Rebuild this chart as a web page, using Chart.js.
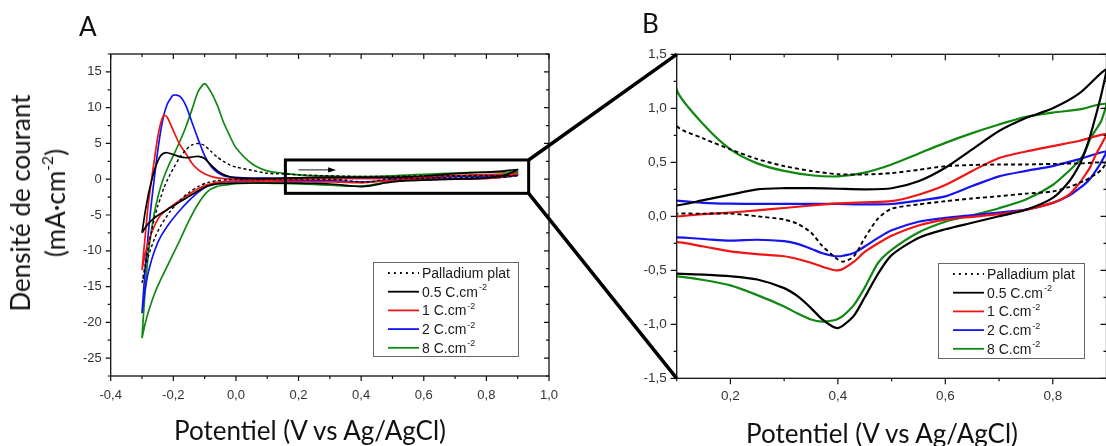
<!DOCTYPE html>
<html>
<head>
<meta charset="utf-8">
<script src="https://cdn.jsdelivr.net/npm/chart.js@4.4.0/dist/chart.umd.min.js"></script>
<style>
  html, body { margin: 0; padding: 0; background: #fff; }
  body { width: 1106px; height: 446px; position: relative; overflow: hidden; font-family: Lato, "Open Sans", sans-serif; }
  canvas { position: absolute; top: 0; }
  #chartA { left: 0; }
  #chartB { left: 560px; }
  #overlay { left: 0; pointer-events: none; }
  .txt { position: absolute; color: #111; white-space: nowrap; line-height: 1; }
  .panel { font-size: 26px; }
  .axisTitle { font-size: 26px; transform: translate(-50%, -50%); }
  #yTitleA { left: 38px; top: 203px; text-align: center; line-height: 35px; transform: translate(-50%, -50%) rotate(-90deg); }
  sup { font-size: 0.6em; position: relative; top: -0.15em; vertical-align: super; line-height: 0; }
</style>
</head>
<body>
<canvas id="chartA" width="560" height="446"></canvas>
<canvas id="chartB" width="560" height="446"></canvas>
<canvas id="overlay" width="1106" height="446"></canvas>
<div class="txt panel" style="left:79px; top:13px;">A</div>
<div class="txt panel" style="left:642px; top:10px;">B</div>
<div class="txt axisTitle" style="left:310px; top:430px;">Potentiel (V vs Ag/AgCl)</div>
<div class="txt axisTitle" style="left:882px; top:433px;">Potentiel (V vs Ag/AgCl)</div>
<div class="txt axisTitle" id="yTitleA">Densité de courant<br>(mA·cm<sup>-2</sup>)</div>
<script>
// potential grid (V vs Ag/AgCl): anodic sweep, then the cathodic sweep back
const potForward = [-0.30, -0.29, -0.28, -0.27, -0.26, -0.25, -0.24, -0.23, -0.22, -0.21, -0.20, -0.18, -0.16, -0.14, -0.12, -0.10, -0.08, -0.06, -0.04, -0.02, 0.00, 0.05, 0.10, 0.15, 0.20, 0.25, 0.30, 0.35, 0.40, 0.45, 0.50, 0.55, 0.60, 0.65, 0.70, 0.75, 0.80, 0.85, 0.90];
const potReverse = [0.89, 0.88, 0.87, 0.86, 0.85, 0.83, 0.80, 0.75, 0.70, 0.65, 0.60, 0.55, 0.50, 0.475, 0.45, 0.43, 0.41, 0.40, 0.39, 0.37, 0.35, 0.325, 0.30, 0.25, 0.20, 0.15, 0.10, 0.05, 0.00, -0.03, -0.06, -0.09, -0.12, -0.15, -0.18, -0.21, -0.24, -0.26, -0.28, -0.29, -0.30];

// current density (mA/cm2)
const pdPlatFwd = [-14.5, -12.0, -9.6, -7.4, -5.4, -3.8, -2.5, -1.2, -0.2, 0.7, 1.5, 3.0, 4.1, 4.8, 5.0, 4.7, 3.9, 3.1, 2.5, 2.0, 1.7, 1.25, 0.835, 0.72, 0.62, 0.53, 0.465, 0.42, 0.39, 0.387, 0.40, 0.43, 0.464, 0.475, 0.48, 0.48, 0.485, 0.49, 0.495];
const pdPlatRev = [0.43, 0.39, 0.36, 0.33, 0.31, 0.27, 0.23, 0.21, 0.186, 0.165, 0.14, 0.11, 0.07, -0.02, -0.2, -0.37, -0.42, -0.4, -0.36, -0.27, -0.15, -0.07, -0.03, 0.0, 0.025, 0.025, 0.025, 0.02, -0.02, -0.07, -0.2, -0.47, -1.0, -1.85, -3.0, -4.5, -6.5, -8.3, -10.8, -12.5, -14.5];
const c05Fwd = [-7.5, -4.6, -2.2, -0.3, 1.3, 2.5, 3.3, 3.65, 3.7, 3.6, 3.45, 3.15, 3.0, 3.1, 3.2, 2.9, 2.0, 1.2, 0.65, 0.35, 0.2, 0.1, 0.1, 0.15, 0.2, 0.25, 0.26, 0.26, 0.255, 0.25, 0.26, 0.325, 0.45, 0.62, 0.79, 0.91, 1.0, 1.14, 1.36];
const c05Rev = [1.12, 0.93, 0.75, 0.6, 0.48, 0.32, 0.17, 0.06, 0.0, -0.06, -0.12, -0.2, -0.36, -0.53, -0.75, -0.92, -1.01, -1.035, -1.02, -0.95, -0.85, -0.74, -0.665, -0.585, -0.555, -0.54, -0.53, -0.53, -0.55, -0.6, -0.65, -0.95, -1.6, -2.4, -3.2, -4.0, -4.8, -5.4, -6.2, -6.8, -7.5];
const c1Fwd = [-12.7, -8.0, -3.5, -0.2, 2.9, 5.8, 7.9, 8.95, 8.7, 7.8, 6.8, 4.9, 3.6, 2.2, 1.3, 0.75, 0.4, 0.2, 0.1, 0.05, 0.02, 0.0, 0.0, 0.02, 0.035, 0.055, 0.077, 0.1, 0.12, 0.13, 0.14, 0.2, 0.29, 0.42, 0.54, 0.6, 0.65, 0.7, 0.76];
const c1Rev = [0.66, 0.57, 0.46, 0.38, 0.31, 0.2, 0.124, 0.06, 0.02, -0.005, -0.03, -0.085, -0.18, -0.25, -0.33, -0.42, -0.485, -0.5, -0.495, -0.465, -0.43, -0.395, -0.37, -0.35, -0.325, -0.28, -0.24, -0.27, -0.3, -0.36, -0.45, -0.75, -1.3, -2.1, -3.0, -3.9, -5.0, -6.5, -8.8, -10.5, -12.7];
const c2Fwd = [-18.7, -12.6, -7.6, -3.3, 0.4, 3.9, 6.8, 9.0, 10.4, 11.2, 11.75, 11.6, 10.3, 7.9, 5.5, 3.3, 1.8, 0.95, 0.5, 0.32, 0.25, 0.17, 0.145, 0.125, 0.117, 0.115, 0.115, 0.115, 0.115, 0.11, 0.114, 0.145, 0.185, 0.28, 0.37, 0.42, 0.465, 0.53, 0.6];
const c2Rev = [0.5, 0.42, 0.35, 0.3, 0.26, 0.19, 0.124, 0.062, 0.035, 0.01, -0.015, -0.05, -0.13, -0.2, -0.28, -0.34, -0.365, -0.37, -0.365, -0.34, -0.3, -0.255, -0.23, -0.217, -0.226, -0.21, -0.195, -0.21, -0.25, -0.3, -0.5, -0.95, -1.8, -3.0, -4.4, -6.0, -8.0, -10.0, -13.0, -15.5, -18.7];
const c8Fwd = [-22.2, -15.5, -10.5, -7.2, -4.6, -2.6, -1.0, 0.3, 1.4, 2.4, 3.3, 5.2, 7.3, 9.8, 12.3, 13.35, 12.2, 10.4, 8.0, 6.1, 4.4, 2.2, 1.17, 0.85, 0.62, 0.49, 0.42, 0.38, 0.37, 0.405, 0.48, 0.58, 0.68, 0.77, 0.85, 0.92, 0.96, 0.99, 1.04];
const c8Rev = [0.88, 0.8, 0.72, 0.6, 0.52, 0.42, 0.29, 0.155, 0.075, 0.01, -0.05, -0.15, -0.31, -0.43, -0.66, -0.82, -0.92, -0.95, -0.965, -0.975, -0.955, -0.9, -0.835, -0.73, -0.64, -0.59, -0.557, -0.56, -0.62, -0.8, -1.0, -1.7, -3.4, -5.8, -8.6, -11.3, -14.0, -16.0, -18.6, -20.2, -22.2];

const seriesLabels = ['Palladium plat', '0.5 C.cm', '1 C.cm', '2 C.cm', '8 C.cm'];
const seriesExponents = ['', '-2', '-2', '-2', '-2'];
const seriesColors = ['#000000', '#000000', '#f01414', '#1414f0', '#118811'];
const seriesFwd = [pdPlatFwd, c05Fwd, c1Fwd, c2Fwd, c8Fwd];
const seriesRev = [pdPlatRev, c05Rev, c1Rev, c2Rev, c8Rev];

// tick labels
const ticksPotA = [-0.4, -0.2, 0.0, 0.2, 0.4, 0.6, 0.8, 1.0];
const ticksCurA = [-25, -20, -15, -10, -5, 0, 5, 10, 15];
const ticksPotB = [0.2, 0.4, 0.6, 0.8];
const ticksCurB = [-1.5, -1.0, -0.5, 0.0, 0.5, 1.0, 1.5];

// region of panel A shown enlarged in panel B
const zoomPot = [0.158, 0.935];
const zoomCur = [-1.97, 2.69];
const sweepArrowPot = [0.2, 0.32];
const sweepArrowCur = 1.3;

function loop(i) {
  const pts = potForward.map((e, k) => ({ x: e, y: seriesFwd[i][k] }));
  return pts.concat(potReverse.map((e, k) => ({ x: e, y: seriesRev[i][k] })));
}

function buildDatasets(width, dash) {
  return seriesLabels.map((label, i) => ({
    label: label,
    data: loop(i),
    borderColor: seriesColors[i],
    borderWidth: i === 0 ? width - 0.3 : width,
    borderDash: i === 0 ? dash : [],
    showLine: true,
    pointRadius: 0,
    tension: 0.25
  }));
}

const frameTicks = {
  id: 'frameTicks',
  afterDraw(chart, args, o) {
    const { ctx, chartArea: a, scales: { x, y } } = chart;
    ctx.save();
    ctx.strokeStyle = '#111';
    ctx.lineWidth = 1.2;
    ctx.beginPath();
    const steps = (sc, step) => {
      const out = [];
      for (let n = Math.ceil(sc.min / step - 1e-6); n * step <= sc.max + 1e-9; n++) out.push(n * step);
      return out;
    };
    const isMajor = (v, step) => Math.abs(v / step - Math.round(v / step)) < 1e-6;
    steps(x, o.xMinor).forEach(v => {
      const px = x.getPixelForValue(v);
      const len = isMajor(v, o.xMajor) ? o.major : o.minor;
      ctx.moveTo(px, a.bottom); ctx.lineTo(px, a.bottom + len);
      ctx.moveTo(px, a.top); ctx.lineTo(px, a.top + len);
    });
    steps(y, o.yMinor).forEach(v => {
      const py = y.getPixelForValue(v);
      const len = isMajor(v, o.yMajor) ? o.major : o.minor;
      ctx.moveTo(a.left, py); ctx.lineTo(a.left - len, py);
      ctx.moveTo(a.right, py); ctx.lineTo(a.right - len, py);
    });
    ctx.stroke();
    ctx.lineWidth = 1.3;
    ctx.strokeRect(a.left, a.top, a.right - a.left, a.bottom - a.top);
    ctx.restore();
  }
};

const boxLegend = {
  id: 'boxLegend',
  afterDraw(chart, args, o) {
    const { ctx, chartArea: a } = chart;
    const left = Math.round(a.right - o.right - o.width);
    const top = Math.round(a.bottom - o.bottom - o.height);
    ctx.save();
    ctx.fillStyle = '#fff';
    ctx.fillRect(left, top, o.width, o.height);
    ctx.strokeStyle = '#666';
    ctx.lineWidth = 1;
    ctx.strokeRect(left + 0.5, top + 0.5, o.width, o.height);
    chart.data.datasets.forEach((ds, i) => {
      const cy = top + 11 + i * 18.7;
      ctx.strokeStyle = ds.borderColor;
      ctx.lineWidth = i === 0 ? 2 : 1.8;
      ctx.setLineDash(i === 0 ? [1.8, 4.2] : []);
      ctx.beginPath();
      ctx.moveTo(left + 15, cy);
      ctx.lineTo(left + 46, cy);
      ctx.stroke();
      ctx.setLineDash([]);
      ctx.fillStyle = '#1a1a1a';
      ctx.textBaseline = 'middle';
      ctx.font = '14px "Liberation Sans", Arial, sans-serif';
      ctx.fillText(seriesLabels[i], left + 49, cy + 1);
      if (seriesExponents[i]) {
        const w = ctx.measureText(seriesLabels[i]).width;
        ctx.font = '9px "Liberation Sans", Arial, sans-serif';
        ctx.fillText(seriesExponents[i], left + 50 + w, cy - 4);
      }
    });
    ctx.restore();
  }
};

const zoomBox = {
  id: 'zoomBox',
  afterDatasetsDraw(chart) {
    const { ctx, scales: { x, y } } = chart;
    ctx.save();
    ctx.strokeStyle = '#000';
    ctx.lineWidth = 3;
    const x0 = x.getPixelForValue(zoomPot[0]), x1 = x.getPixelForValue(zoomPot[1]);
    const y0 = y.getPixelForValue(zoomCur[1]), y1 = y.getPixelForValue(zoomCur[0]);
    ctx.strokeRect(x0, y0, x1 - x0, y1 - y0);
    // sweep direction arrow
    const ax0 = x.getPixelForValue(sweepArrowPot[0]), ax1 = x.getPixelForValue(sweepArrowPot[1]);
    const ay = y.getPixelForValue(sweepArrowCur);
    ctx.strokeStyle = '#444';
    ctx.lineWidth = 1.2;
    ctx.beginPath();
    ctx.moveTo(ax0, ay); ctx.lineTo(ax1 - 6, ay);
    ctx.stroke();
    ctx.fillStyle = '#000';
    ctx.beginPath();
    ctx.moveTo(ax1, ay); ctx.lineTo(ax1 - 8, ay - 2.6); ctx.lineTo(ax1 - 8, ay + 2.6); ctx.closePath();
    ctx.fill();
    ctx.restore();
  }
};

function tickFmt(decimals) {
  return v => {
    const r = Math.abs(v) < 1e-9 ? 0 : v;
    return r.toFixed(decimals).replace('.', ',');
  };
}

function axisOpts(min, max, values, decimals, padding, size, fitW, fitH) {
  return {
    type: 'linear', min: min, max: max,
    grid: { display: false, drawTicks: false },
    border: { display: false },
    ticks: {
      autoSkip: false, maxRotation: 0,
      padding: padding, color: '#333',
      font: { family: '"Liberation Sans", Arial, sans-serif', size: size },
      callback: tickFmt(decimals)
    },
    afterBuildTicks: s => { s.ticks = values.map(v => ({ value: v })); },
    afterFit: s => {
      if (fitW) s.width = fitW;
      if (fitH) s.height = fitH;
      s.paddingLeft = 0; s.paddingRight = 0; s.paddingTop = 0; s.paddingBottom = 0;
    }
  };
}

const chartA = new Chart(document.getElementById('chartA'), {
  type: 'scatter',
  data: { datasets: buildDatasets(1.7, [3, 2.5]) },
  plugins: [zoomBox, frameTicks, boxLegend],
  options: {
    responsive: false, animation: false, events: [],
    layout: { padding: { left: 0, top: 54, right: 11, bottom: 0 } },
    scales: {
      x: axisOpts(-0.4, 1.0, ticksPotA, 1, 12, 13, 0, 70),
      y: axisOpts(-27.5, 17.5, ticksCurA, 0, 9, 13, 110.7, 0)
    },
    plugins: {
      legend: { display: false }, tooltip: { enabled: false },
      frameTicks: { xMinor: 0.1, xMajor: 0.2, yMinor: 2.5, yMajor: 5, major: 5, minor: 3 },
      boxLegend: { right: 31, bottom: 20, width: 145, height: 94 }
    }
  }
});

const chartB = new Chart(document.getElementById('chartB'), {
  type: 'scatter',
  data: { datasets: buildDatasets(2.2, [4, 3]) },
  plugins: [frameTicks, boxLegend],
  options: {
    responsive: false, animation: false, events: [],
    layout: { padding: { left: 0, top: 54.3, right: 13.5, bottom: 0 } },
    scales: {
      x: axisOpts(0.1, 0.9, ticksPotB, 1, 10, 13.5, 0, 67.7),
      y: axisOpts(-1.5, 1.5, ticksCurB, 1, 10, 13.5, 116.7, 0)
    },
    plugins: {
      legend: { display: false }, tooltip: { enabled: false },
      frameTicks: { xMinor: 0.1, xMajor: 0.2, yMinor: 0.25, yMajor: 0.5, major: 6, minor: 3 },
      boxLegend: { right: 22.5, bottom: 20, width: 146, height: 95 }
    }
  }
});

// thick lines joining the zoom box of A to the frame of B
(function drawLinks() {
  const ctx = document.getElementById('overlay').getContext('2d');
  const ax = chartA.scales.x, ay = chartA.scales.y;
  const offB = chartB.canvas.offsetLeft;
  const bx = ax.getPixelForValue(zoomPot[1]);
  const yTop = ay.getPixelForValue(zoomCur[1]);
  const yBot = ay.getPixelForValue(zoomCur[0]);
  const b = chartB.chartArea;
  ctx.strokeStyle = '#000';
  ctx.lineWidth = 3.5;
  ctx.beginPath();
  ctx.moveTo(bx, yTop); ctx.lineTo(offB + b.left, b.top);
  ctx.moveTo(bx, yBot); ctx.lineTo(offB + b.left, b.bottom);
  ctx.stroke();
})();
</script>
</body>
</html>
